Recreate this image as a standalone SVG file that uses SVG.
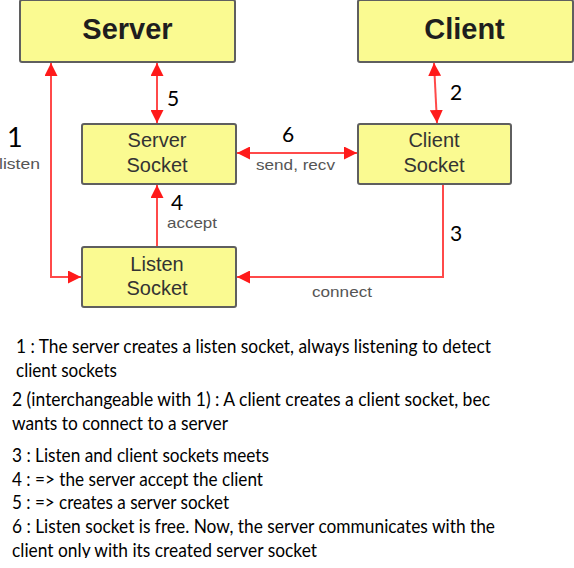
<svg xmlns="http://www.w3.org/2000/svg" width="574" height="568" viewBox="0 0 574 568">
<style>
.box{fill:#fafa91;stroke:#5f5f5f;stroke-width:2}
.big{font-family:"Liberation Sans",Arial,sans-serif;font-weight:bold;font-size:29px;fill:#1e1e1e;text-anchor:middle}
.sock{font-family:"Liberation Sans",Arial,sans-serif;font-size:20px;fill:#333;text-anchor:middle}
.lbl{font-family:"Liberation Sans",Arial,sans-serif;font-size:15px;fill:#555}
.num{font-family:Lato,"Open Sans",sans-serif;font-size:21px;fill:#000}
.note{font-family:Lato,"Open Sans",sans-serif;font-size:19px;fill:#000}
.con{fill:none;stroke:#ff4a4a;stroke-width:2}
</style>
<defs>
<marker id="ah" markerUnits="userSpaceOnUse" markerWidth="13" markerHeight="13" refX="12" refY="6" orient="auto-start-reverse" viewBox="0 0 12 12">
<path d="M0,0 L12,6 L0,12 z" fill="#ff1a1a"/>
</marker>
<clipPath id="cut"><rect x="0" y="0" width="574" height="558"/></clipPath>
</defs>
<g id="connectors">
<path class="con" d="M51,63 V277 H81" marker-start="url(#ah)" marker-end="url(#ah)"/>
<path class="con" d="M157,63 V123" marker-start="url(#ah)" marker-end="url(#ah)"/>
<path class="con" d="M434,63 L437,123" marker-start="url(#ah)" marker-end="url(#ah)"/>
<path class="con" d="M237,153 H357" marker-start="url(#ah)" marker-end="url(#ah)"/>
<path class="con" d="M157,246 V185" marker-end="url(#ah)"/>
<path class="con" d="M443,185 V277 H237" marker-end="url(#ah)"/>
<text class="lbl" x="-1" y="169" textLength="41" lengthAdjust="spacingAndGlyphs">listen</text>
<text class="lbl" x="256" y="170" textLength="79" lengthAdjust="spacingAndGlyphs">send, recv</text>
<text class="lbl" x="167" y="228" textLength="50" lengthAdjust="spacingAndGlyphs">accept</text>
<text class="lbl" x="312" y="297" textLength="60" lengthAdjust="spacingAndGlyphs">connect</text>
<text class="num" x="7" y="147" style="font-size:27px">1</text>
<text class="num" x="167" y="106">5</text>
<text class="num" x="450" y="100">2</text>
<text class="num" x="282" y="142">6</text>
<text class="num" x="171" y="210">4</text>
<text class="num" x="450" y="241">3</text>
</g>
<g id="server">
<rect class="box" x="20" y="0" width="215" height="62" rx="2"/>
<text class="big" x="127.5" y="39">Server</text>
</g>
<g id="client">
<rect class="box" x="358" y="0" width="215" height="62" rx="2"/>
<text class="big" x="464.5" y="39">Client</text>
</g>
<g id="server-socket">
<rect class="box" x="82" y="124" width="154" height="60" rx="2"/>
<text class="sock" x="157" y="147">Server</text>
<text class="sock" x="157" y="172">Socket</text>
</g>
<g id="client-socket">
<rect class="box" x="358" y="124" width="153" height="60" rx="2"/>
<text class="sock" x="434" y="147">Client</text>
<text class="sock" x="434" y="172">Socket</text>
</g>
<g id="listen-socket">
<rect class="box" x="82" y="247" width="154" height="60" rx="2"/>
<text class="sock" x="157" y="271">Listen</text>
<text class="sock" x="157" y="295">Socket</text>
</g>
<g id="notes" clip-path="url(#cut)">
<text class="note" x="16" y="353" textLength="475" lengthAdjust="spacingAndGlyphs">1 : The server creates a listen socket, always listening to detect</text>
<text class="note" x="16" y="377" textLength="101" lengthAdjust="spacingAndGlyphs">client sockets</text>
<text class="note" x="12" y="406" textLength="478" lengthAdjust="spacingAndGlyphs">2 (interchangeable with 1) : A client creates a client socket, bec</text>
<text class="note" x="12" y="430" textLength="216" lengthAdjust="spacingAndGlyphs">wants to connect to a server</text>
<text class="note" x="12" y="462" textLength="257" lengthAdjust="spacingAndGlyphs">3 : Listen and client sockets meets</text>
<text class="note" x="12" y="486" textLength="251" lengthAdjust="spacingAndGlyphs">4 : =&gt; the server accept the client</text>
<text class="note" x="12" y="509" textLength="217" lengthAdjust="spacingAndGlyphs">5 : =&gt; creates a server socket</text>
<text class="note" x="12" y="533" textLength="483" lengthAdjust="spacingAndGlyphs">6 : Listen socket is free. Now, the server communicates with the</text>
<text class="note" x="12" y="557" textLength="305" lengthAdjust="spacingAndGlyphs">client only with its created server socket</text>
</g>
</svg>
